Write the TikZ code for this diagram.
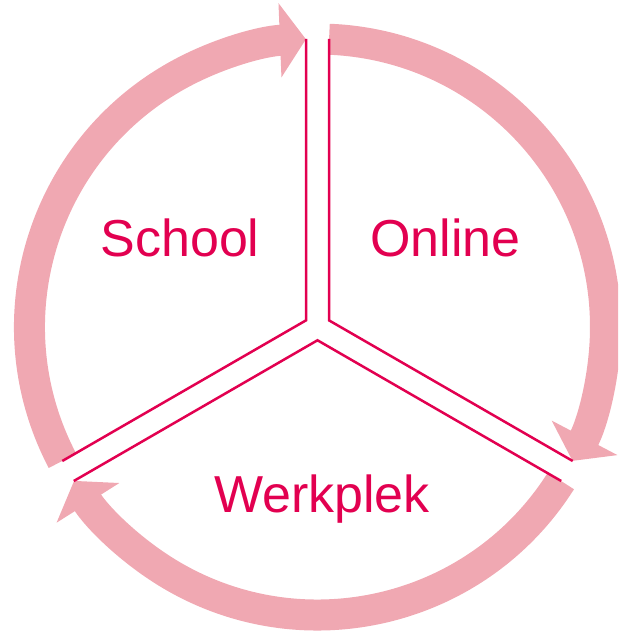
\documentclass[tikz,border=0pt]{standalone}
\usepackage{fontspec}
\setmainfont{Liberation Sans}
\usetikzlibrary{arrows.meta}
\definecolor{ringpink}{RGB}{240,168,178}
\definecolor{crimson}{RGB}{226,0,80}
\begin{document}
\begin{tikzpicture}[x=1pt,y=1pt,
  ringarrow/.style={draw=ringpink,line width=31pt,
    -{Triangle[length=26pt,width=73pt,fill=ringpink]}},
  divider/.style={draw=crimson,line width=2.5pt,line join=miter},
  label/.style={text=crimson,font=\fontsize{52}{60}\selectfont,anchor=base,inner sep=0pt}]
\useasboundingbox (-317.5,-304) rectangle (300.5,327);
\clip (-317.5,-304) rectangle (300.5,327);
% ring arrows (clockwise)
\draw[ringarrow] (207.7:288) arc[start angle=207.7,end angle=92.3,radius=288];
\draw[ringarrow] (87.7:288) arc[start angle=87.7,end angle=-27.7,radius=288];
\draw[ringarrow] (-32.3:288) arc[start angle=-32.3,end angle=-147.7,radius=288];
% divider geometry
\coordinate (tl) at (-11.5,288);
\coordinate (tr) at (11.5,288);
\coordinate (cl) at (-11.5,6.64);
\coordinate (cr) at (11.5,6.64);
\coordinate (cb) at (0,-13.28);
\coordinate (lu) at (-255.2,-134);
\coordinate (ll) at (-243.7,-154);
\coordinate (ru) at (255.2,-134);
\coordinate (rl) at (243.7,-154);
\draw[divider] (tl) -- (cl) -- (lu);
\draw[divider] (tr) -- (cr) -- (ru);
\draw[divider] (ll) -- (cb) -- (rl);
% labels
\node[label] (school) at (-137.5,70) {School};
\node[label] (online) at (128,70) {Online};
\node[label] (werkplek) at (4.5,-185) {Werkplek};
\end{tikzpicture}
\end{document}
